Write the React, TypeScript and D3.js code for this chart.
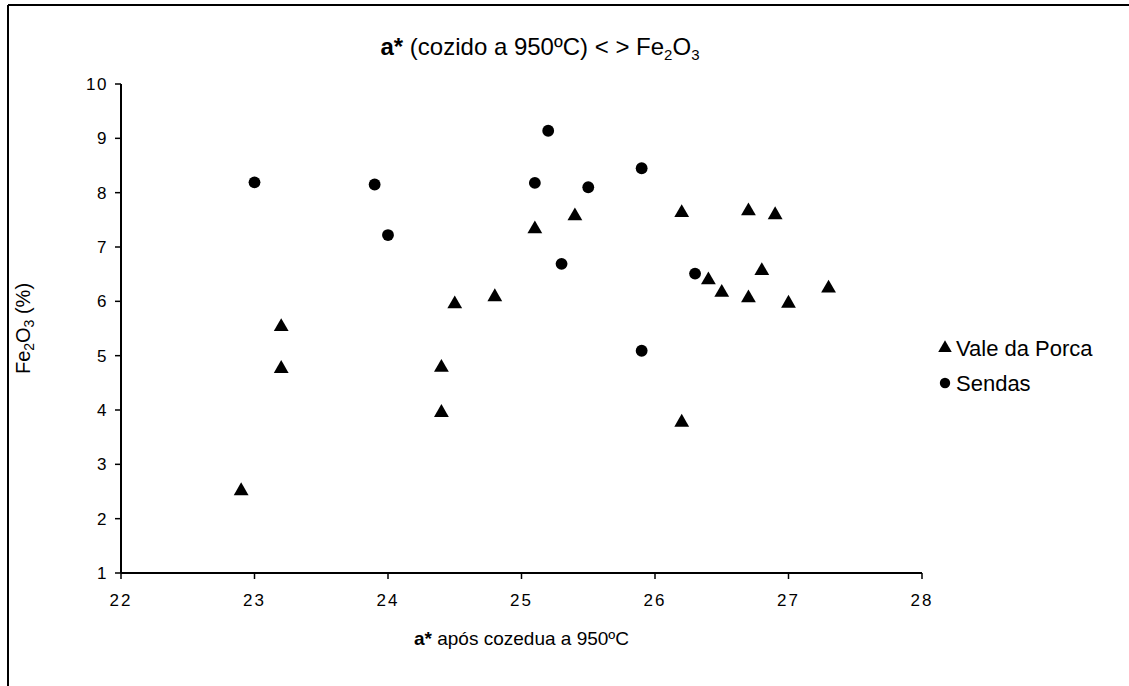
import React from "react";
import * as d3 from "d3";

const valeX = [22.9, 23.2, 23.2, 24.4, 24.4, 24.5, 24.8, 25.1, 25.4, 26.2, 26.2, 26.4, 26.5, 26.7, 26.7, 26.8, 26.9, 27.0, 27.3];
const valeY = [2.53, 5.55, 4.78, 4.8, 3.97, 5.97, 6.1, 7.35, 7.59, 7.65, 3.79, 6.41, 6.18, 7.68, 6.08, 6.58, 7.61, 5.98, 6.26];
const sendasX = [23.0, 23.9, 24.0, 25.1, 25.2, 25.5, 25.3, 25.9, 26.3, 25.9];
const sendasY = [8.19, 8.15, 7.22, 8.18, 9.14, 8.1, 6.69, 8.45, 6.51, 5.09];
const xTicks = [22, 23, 24, 25, 26, 27, 28];
const yTicks = [1, 2, 3, 4, 5, 6, 7, 8, 9, 10];
const seriesNames = ["Vale da Porca", "Sendas"];

export default function App() {
  const W = 1129, H = 686;
  const x = d3.scaleLinear().domain([22, 28]).range([121, 922]);
  const y = d3.scaleLinear().domain([1, 10]).range([573, 84]);
  const tri = d3.symbol().type(d3.symbolTriangle).size(95)() as string;
  const circ = d3.symbol().type(d3.symbolCircle).size(110)() as string;
  const font = "'Liberation Sans', Arial, sans-serif";
  const vale = valeX.map((v, i) => [v, valeY[i]]);
  const sendas = sendasX.map((v, i) => [v, sendasY[i]]);
  return (
    <svg width={W} height={H} style={{ position: "absolute", left: 0, top: 0, background: "#fff" }}>
      <rect x={0} y={0} width={W} height={H} fill="#fff" />
      {/* frame */}
      <line x1={8} y1={5} x2={W} y2={5} stroke="#000" strokeWidth={2} />
      <line x1={8} y1={5} x2={8} y2={H} stroke="#000" strokeWidth={2} />
      {/* title */}
      <text x={540} y={55} textAnchor="middle" fontFamily={font} fontSize={24} fill="#000">
        <tspan fontWeight="bold">a*</tspan>
        <tspan> (cozido a 950ºC) &lt; &gt; Fe</tspan>
        <tspan fontSize={15} dy={5}>2</tspan>
        <tspan dy={-5}>O</tspan>
        <tspan fontSize={15} dy={5}>3</tspan>
      </text>
      {/* axes */}
      <line x1={x(22)} y1={y(1)} x2={x(22)} y2={y(10)} stroke="#000" strokeWidth={2} />
      <line x1={x(22)} y1={y(1)} x2={x(28)} y2={y(1)} stroke="#000" strokeWidth={2} />
      {yTicks.map((t) => (
        <g key={"y" + t}>
          <line x1={x(22) - 6} x2={x(22)} y1={y(t)} y2={y(t)} stroke="#000" strokeWidth={1.5} />
          <text x={x(22) - 13} y={y(t) + 6} textAnchor="end" fontFamily={font} fontSize={17} letterSpacing={1.5} fill="#000">{t}</text>
        </g>
      ))}
      {xTicks.map((t) => (
        <g key={"x" + t}>
          <line x1={x(t)} x2={x(t)} y1={y(1)} y2={y(1) + 6} stroke="#000" strokeWidth={1.5} />
          <text x={x(t)} y={y(1) + 33} textAnchor="middle" fontFamily={font} fontSize={17} letterSpacing={2} fill="#000">{t}</text>
        </g>
      ))}
      {/* axis titles */}
      <text x={(x(22) + x(28)) / 2} y={645} textAnchor="middle" fontFamily={font} fontSize={19} fill="#000">
        <tspan fontWeight="bold">a*</tspan>
        <tspan> após cozedua a 950ºC</tspan>
      </text>
      <text transform={`translate(30, ${(y(1) + y(10)) / 2}) rotate(-90)`} textAnchor="middle" fontFamily={font} fontSize={20} fill="#000">
        <tspan>Fe</tspan>
        <tspan fontSize={14} dy={4}>2</tspan>
        <tspan dy={-4}>O</tspan>
        <tspan fontSize={14} dy={4}>3</tspan>
        <tspan dy={-4}> (%)</tspan>
      </text>
      {/* data */}
      {vale.map((d, i) => (
        <path key={"v" + i} d={tri} transform={`translate(${x(d[0])},${y(d[1]) + 1})`} fill="#000" />
      ))}
      {sendas.map((d, i) => (
        <path key={"s" + i} d={circ} transform={`translate(${x(d[0])},${y(d[1])})`} fill="#000" />
      ))}
      {/* legend */}
      <path d={d3.symbol().type(d3.symbolTriangle).size(80)() as string} transform="translate(945,348)" fill="#000" />
      <text x={956} y={356} fontFamily={font} fontSize={22} fill="#000">{seriesNames[0]}</text>
      <path d={d3.symbol().type(d3.symbolCircle).size(85)() as string} transform="translate(945,383)" fill="#000" />
      <text x={956} y={391} fontFamily={font} fontSize={22} fill="#000">{seriesNames[1]}</text>
    </svg>
  );
}
